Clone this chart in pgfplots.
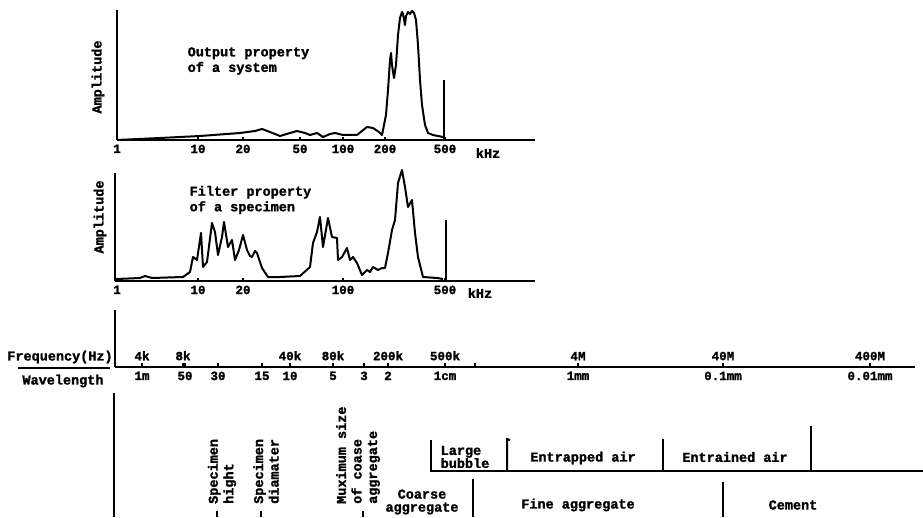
\documentclass[border=0pt]{standalone}
\usepackage{fontspec}
\setmainfont{Liberation Mono}[BoldFeatures={FakeBold=1.6}]
\usepackage{pgfplots}
\pgfplotsset{compat=1.18}

\pgfplotsset{
  panel/.style={
    scale only axis, clip=false,
    axis x line=bottom, axis y line=left,
    axis line style={-, line width=2pt},
    ytick=\empty, tick align=inside, major tick length=3pt,
    xtick style={line width=1.4pt, black},
    tick label style={font=\bfseries\fontsize{12.5}{14}\selectfont},
    no markers,
  },
  curve/.style={black, line width=2pt, line join=round},
  rule/.style={black, line width=2pt},
}

\begin{document}
\bfseries\fontsize{13.5}{15.5}\selectfont
\begin{tikzpicture}
\path[use as bounding box] (0,0) rectangle (923pt,517pt);

% output property of the system
\begin{axis}[panel, at={(117pt,377pt)}, anchor=south west,
  width=418pt, height=130pt,
  xmin=117, xmax=535, ymin=0, ymax=130,
  xtick={117,198,243,300,343,385,445},
  xticklabels={1,10,20,50,100,200,500}]
\addplot[curve] coordinates {
  (117,0) (160,2) (200,4) (240,7) (255,9) (262,11) (270,8) (280,4) (290,7)
  (297,9) (305,7) (310,5) (317,7) (323,3) (330,6) (335,7) (343,5) (357,5)
  (362,9) (367,13) (373,12) (379,8) (382,5) (386,25) (388,50) (390,80)
  (391,87) (392,75) (394,62) (396,75) (398,105) (400,122) (402,128) (403,126)
  (405,115) (406,124) (408,128) (410,126) (412,129) (414,127) (416,120)
  (418,95) (420,60) (422,35) (425,15) (428,7) (433,5) (438,4) (443,3)
};
\addplot[rule] coordinates {(444,0) (444,60)};
\node[rotate=90] at (axis cs:98,63) {Amplitude};
\node[anchor=west, align=left] at (axis cs:183,79) {Output property\\of a system};
\node at (axis cs:488,-13) {kHz};
\end{axis}

% filter property of the specimen
\begin{axis}[panel, at={(115pt,236pt)}, anchor=south west,
  width=420pt, height=108pt,
  xmin=115, xmax=535, ymin=0, ymax=108,
  xtick={117,198,243,343,445},
  xticklabels={1,10,20,100,500}]
\addplot[curve] coordinates {
  (117,2) (140,3) (145,5) (152,3) (183,4) (190,9) (193,24) (197,21) (201,48)
  (203,14) (207,19) (212,58) (215,49) (218,26) (222,44) (224,59) (228,34)
  (232,41) (235,21) (239,31) (243,46) (247,31) (250,25) (252,24) (255,30)
  (257,28) (262,13) (268,4) (280,4) (300,5) (310,14) (313,38) (317,49)
  (320,64) (323,34) (328,63) (332,44) (337,43) (338,21) (342,24) (347,33)
  (350,21) (353,24) (357,18) (362,6) (367,11) (370,9) (373,14) (378,11)
  (382,13) (385,13) (388,28) (392,51) (395,61) (398,98) (402,111) (405,94)
  (408,74) (412,81) (415,48) (418,24) (423,4) (437,3) (443,2)
};
\addplot[rule] coordinates {(446,0) (446,61)};
\node[rotate=90] at (axis cs:100,64) {Amplitude};
\node[anchor=west, align=left] at (axis cs:185,81) {Filter property\\of a specimen};
\node at (axis cs:480,-12) {kHz};
\end{axis}

% frequency / wavelength scale
\begin{axis}[panel, at={(115pt,150pt)}, anchor=south west,
  width=800pt, height=57pt,
  xmin=115, xmax=915, ymin=0, ymax=1,
  major tick length=4pt,
  xtick={142,185,218,262,290,333,364,388,445,475,578,723,870},
  xticklabels={1m,50,30,15,10,5,3,2,1cm,,1mm,0.1mm,0.01mm},
  extra x ticks={142,183,290,333,388,445,578,723,870},
  extra x tick labels={4k,8k,40k,80k,200k,500k,4M,40M,400M},
  extra x tick style={xticklabel style={anchor=south, yshift=2pt}}]
\end{axis}

% labels and ranges, in picture pixels
\begin{axis}[at={(0pt,0pt)}, anchor=south west, scale only axis,
  width=923pt, height=517pt, xmin=0, xmax=923, ymin=0, ymax=517,
  y dir=reverse, hide axis, clip=false, no markers]
\addplot[rule] coordinates {(18,368) (110,368)};
\addplot[rule] coordinates {(114,393) (114,517)};
\addplot[rule] coordinates {(431,440) (431,471) (923,471)};
\addplot[rule] coordinates {(510,440) (507,439) (507,471)};
\addplot[rule] coordinates {(663,439) (663,471)};
\addplot[rule] coordinates {(811,426) (811,471)};
\addplot[rule] coordinates {(473,479) (473,517)};
\addplot[rule] coordinates {(723,482) (723,517)};
\addplot[rule] coordinates {(217,511) (217,517)};
\addplot[rule] coordinates {(261,511) (261,517)};
\addplot[rule] coordinates {(363,511) (363,517)};

\node at (axis cs:60,357) {Frequency(Hz)};
\node at (axis cs:63,381) {Wavelength};

\node[rotate=90, anchor=west, align=left, inner sep=0pt] at (axis cs:222,504) {Specimen\\hight};
\node[rotate=90, anchor=west, align=left, inner sep=0pt] at (axis cs:266,504) {Specimen\\diamater};
\node[rotate=90, anchor=west, align=left, inner sep=0pt] at (axis cs:358,504) {Muximum size\\of coase\\aggregate};
\node[align=center, inner sep=0pt, font=\bfseries\fontsize{13.5}{13}\selectfont] at (axis cs:422,502) {Coarse\\aggregate};
\node[anchor=west, align=left, font=\bfseries\fontsize{13.5}{13}\selectfont] at (axis cs:436,457) {Large\\bubble};
\node at (axis cs:583,458) {Entrapped air};
\node at (axis cs:735,457) {Entrained air};
\node at (axis cs:578,505) {Fine aggregate};
\node at (axis cs:793,505) {Cement};
\end{axis}
\end{tikzpicture}
\end{document}
